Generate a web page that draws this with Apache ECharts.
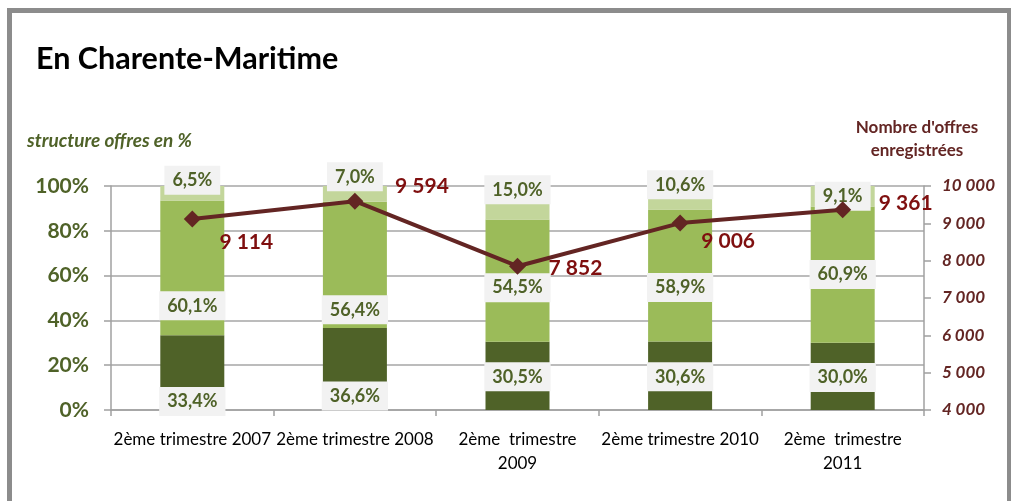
<!DOCTYPE html>
<html>
<head>
<meta charset="utf-8">
<script src="https://cdn.jsdelivr.net/npm/echarts@6/dist/echarts.min.js"></script>
<style>html,body{margin:0;padding:0;background:#fff;}#c{width:1011px;height:501px;}</style>
</head>
<body>
<div id="c"></div>
<script>
const categories = ['2ème trimestre 2007', '2ème trimestre 2008', '2ème  trimestre\n2009', '2ème trimestre 2010', '2ème  trimestre\n2011'];
const darkShare = [33.4, 36.6, 30.5, 30.6, 30.0];
const midShare = [60.1, 56.4, 54.5, 58.9, 60.9];
const lightShare = [6.5, 7.0, 15.0, 10.6, 9.1];
const offers = [9114, 9594, 7852, 9006, 9361];
const leftTicks = [0, 20, 40, 60, 80, 100];
const rightTicks = [4000, 5000, 6000, 7000, 8000, 9000, 10000];

// label placement (style only)
const darkOff = [29, 27, 1, 1, 1];
const midOff = [38, 45, 7, 12, 0];
const lightOff = [-13, -17, -13, -13, 0];
const lineOff = [[54, 23], [67, -15], [58, 2], [48, 18], [63, -7]];

const FONT = 'Lato';
const fmtPct = v => v.toFixed(1).replace('.', ',') + '%';
const fmtNum = v => String(v).replace(/\B(?=(\d{3})+(?!\d))/g, ' ');

function barData(vals, offs) {
  return vals.map((v, i) => ({ value: v, label: { offset: [0, offs[i]] } }));
}
const barLabel = {
  show: true, position: 'inside', formatter: p => fmtPct(p.value),
  color: '#4F6228', fontFamily: FONT, fontWeight: 'bold', fontSize: 18,
  backgroundColor: '#F2F2F2', padding: [6, 8, 5, 8]
};

const chart = echarts.init(document.getElementById('c'), null, { renderer: 'canvas' });
chart.setOption({
  animation: false,
  textStyle: { fontFamily: FONT },
  title: { text: 'En Charente-Maritime', left: 31, top: 39, textStyle: { fontFamily: FONT, fontWeight: 'bold', fontSize: 30.5, color: '#000' } },
  graphic: [
    { type: 'rect', shape: { x: 7, y: 8, width: 1004, height: 5 }, style: { fill: '#8C8C8C' } },
    { type: 'rect', shape: { x: 7, y: 8, width: 5, height: 493 }, style: { fill: '#8C8C8C' } },
    { type: 'rect', shape: { x: 1007, y: 8, width: 4, height: 493 }, style: { fill: '#8C8C8C' } },
    { type: 'text', x: 27, y: 141, style: { text: 'structure offres en %', textVerticalAlign: 'middle', fontFamily: FONT, fontStyle: 'italic', fontWeight: 'bold', fontSize: 19, fill: '#4F6228' } },
    { type: 'text', x: 917, y: 116, style: { text: "Nombre d'offres\nenregistrées", textAlign: 'center', fontFamily: FONT, fontWeight: 'bold', fontSize: 17, lineHeight: 23, fill: '#632523' } }
  ],
  grid: { left: 111, right: 87, top: 186, bottom: 91 },
  xAxis: {
    type: 'category', data: categories, boundaryGap: true,
    axisLine: { lineStyle: { color: '#A0A0A0', width: 1.5 } },
    axisTick: { show: true, length: 6, lineStyle: { color: '#A0A0A0', width: 1.5 } },
    axisLabel: { interval: 0, color: '#000', fontFamily: FONT, fontSize: 17, margin: 18, lineHeight: 24 }
  },
  yAxis: [
    {
      type: 'value', min: leftTicks[0], max: leftTicks[leftTicks.length - 1], interval: 20,
      axisLine: { show: true, lineStyle: { color: '#A0A0A0', width: 1.5 } },
      axisTick: { show: true, length: 7, lineStyle: { color: '#A0A0A0', width: 1.5 } },
      splitLine: { lineStyle: { color: '#A6A6A6', width: 1.5 } },
      axisLabel: { formatter: v => v + '%', color: '#4F6228', fontFamily: FONT, fontWeight: 'bold', fontSize: 21, margin: 22 }
    },
    {
      type: 'value', min: rightTicks[0], max: rightTicks[rightTicks.length - 1], interval: 1000,
      position: 'right',
      axisLine: { show: true, lineStyle: { color: '#A0A0A0', width: 1.5 } },
      axisTick: { show: true, length: 7, lineStyle: { color: '#A0A0A0', width: 1.5 } },
      splitLine: { show: false },
      axisLabel: { formatter: v => fmtNum(v), color: '#632523', fontFamily: FONT, fontWeight: 'bold', fontStyle: 'italic', fontSize: 17, margin: 18 }
    }
  ],
  series: [
    { type: 'bar', stack: 's', barWidth: 64, data: barData(darkShare, darkOff), itemStyle: { color: '#4F6228' }, label: barLabel, z: 2 },
    { type: 'bar', stack: 's', barWidth: 64, data: barData(midShare, midOff), itemStyle: { color: '#9BBB59' }, label: barLabel, z: 2 },
    { type: 'bar', stack: 's', barWidth: 64, data: barData(lightShare, lightOff), itemStyle: { color: '#C3D69B' }, label: barLabel, z: 2 },
    {
      type: 'line', yAxisIndex: 1, z: 3,
      data: offers.map((v, i) => ({ value: v, label: { offset: lineOff[i] } })),
      symbol: 'diamond', symbolSize: 17,
      lineStyle: { color: '#632523', width: 4 },
      itemStyle: { color: '#632523' },
      label: { show: true, position: 'inside', formatter: p => fmtNum(p.value), color: '#7F0F0F', fontFamily: FONT, fontWeight: 'bold', fontSize: 21 }
    }
  ]
});
</script>
</body>
</html>
